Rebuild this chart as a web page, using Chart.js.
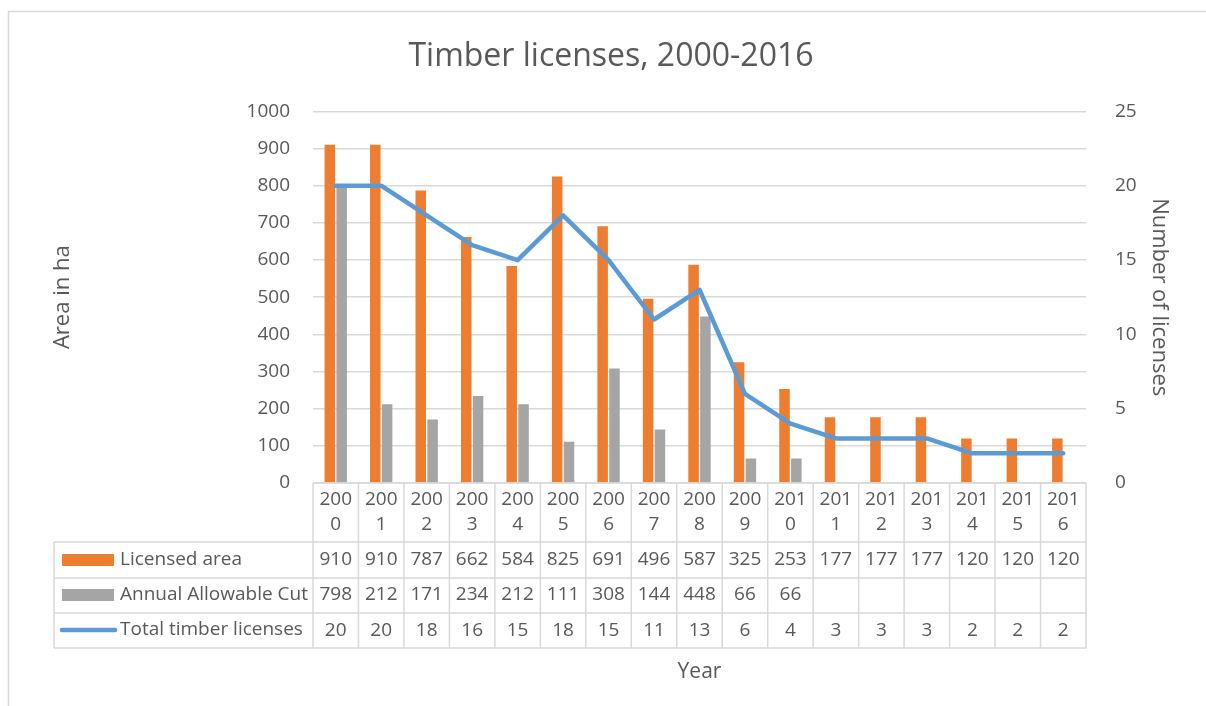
<!DOCTYPE html>
<html>
<head>
<meta charset="utf-8">
<script src="https://cdn.jsdelivr.net/npm/chart.js@4.4.1/dist/chart.umd.min.js"></script>
<style>
  body { margin: 0; background: #fff; }
  #wrap { width: 1206px; height: 706px; }
</style>
</head>
<body>
<div id="wrap"><canvas id="timber" width="1206" height="706"></canvas></div>
<script>
const years = ["2000", "2001", "2002", "2003", "2004", "2005", "2006", "2007", "2008",
  "2009", "2010", "2011", "2012", "2013", "2014", "2015", "2016"];
const licensedArea = [910, 910, 787, 662, 584, 825, 691, 496, 587, 325, 253, 177, 177, 177, 120, 120, 120];
const annualCut = [798, 212, 171, 234, 212, 111, 308, 144, 448, 66, 66, null, null, null, null, null, null];
const totalLicenses = [20, 20, 18, 16, 15, 18, 15, 11, 13, 6, 4, 3, 3, 3, 2, 2, 2];

const FONT = "'Open Sans', sans-serif";
const TXT = "#595959";
const GRID = "#D9D9D9";
const ORANGE = "#ED7D31";
const GREY = "#A5A5A5";
const BLUE = "#5B9BD5";

// outer frame + data table under the plot
const tablePlugin = {
  id: "dataTable",
  beforeDraw(chart) {
    const c = chart.ctx;
    c.save();
    c.strokeStyle = GRID;
    c.lineWidth = 1.5;
    c.beginPath();
    c.moveTo(8.5, 706);
    c.lineTo(8.5, 11.5);
    c.lineTo(1206, 11.5);
    c.stroke();
    c.restore();
  },
  afterDraw(chart) {
    const c = chart.ctx;
    const x = chart.scales.x;
    const n = years.length;
    const colW = (x.right - x.left) / n;
    const top = chart.chartArea.bottom;
    const rowLines = [top + 59, top + 95, top + 130, top + 165];
    const legLeft = 54;

    c.save();
    c.strokeStyle = GRID;
    c.lineWidth = 1.5;
    c.beginPath();
    c.moveTo(x.left, top);
    c.lineTo(x.right, top);
    rowLines.forEach((y) => {
      c.moveTo(legLeft, y);
      c.lineTo(x.right, y);
    });
    for (let i = 0; i <= n; i++) {
      const xx = x.left + i * colW;
      c.moveTo(xx, top);
      c.lineTo(xx, rowLines[3]);
    }
    c.moveTo(legLeft, rowLines[0]);
    c.lineTo(legLeft, rowLines[3]);
    c.stroke();

    c.fillStyle = TXT;
    c.font = "19px " + FONT;
    c.textAlign = "center";
    c.textBaseline = "middle";
    years.forEach((yr, i) => {
      const cx = x.getPixelForValue(i);
      c.fillText(yr.slice(0, 3), cx, top + 17);
      c.fillText(yr.slice(3), cx, top + 42);
      c.fillText(String(licensedArea[i]), cx, top + 77);
      if (annualCut[i] !== null) c.fillText(String(annualCut[i]), cx, top + 112);
      c.fillText(String(totalLicenses[i]), cx, top + 148);
    });

    // legend keys
    const names = ["Licensed area", "Annual Allowable Cut", "Total timber licenses"];
    const mids = [top + 77, top + 112, top + 147];
    c.textAlign = "left";
    c.fillStyle = ORANGE;
    c.fillRect(62, mids[0] - 6, 52, 12);
    c.fillStyle = GREY;
    c.fillRect(62, mids[1] - 6, 52, 12);
    c.strokeStyle = BLUE;
    c.lineWidth = 4.5;
    c.lineCap = "round";
    c.beginPath();
    c.moveTo(62, mids[2]);
    c.lineTo(115, mids[2]);
    c.stroke();
    c.fillStyle = TXT;
    names.forEach((nm, i) => c.fillText(nm, 120, mids[i]));
    c.restore();
  }
};

new Chart(document.getElementById("timber"), {
  type: "bar",
  data: {
    labels: years,
    datasets: [
      {
        label: "Licensed area",
        data: licensedArea,
        backgroundColor: ORANGE,
        yAxisID: "y",
        order: 2,
      },
      {
        label: "Annual Allowable Cut",
        data: annualCut,
        backgroundColor: GREY,
        yAxisID: "y",
        order: 3,
      },
      {
        type: "line",
        label: "Total timber licenses",
        data: totalLicenses,
        borderColor: BLUE,
        borderWidth: 4.5,
        borderCapStyle: "round",
        borderJoinStyle: "round",
        pointRadius: 0,
        tension: 0,
        yAxisID: "y2",
        order: 1,
      },
    ],
  },
  options: {
    responsive: false,
    animation: false,
    categoryPercentage: 0.52,
    barPercentage: 0.89,
    layout: { padding: { top: 12, left: 47, right: 31, bottom: 10 } },
    plugins: {
      legend: { display: false },
      tooltip: { enabled: false },
      title: {
        display: true,
        text: "Timber licenses, 2000-2016",
        color: TXT,
        font: { family: FONT, size: 32, weight: "normal" },
        padding: { top: 26, bottom: 35 },
      },
    },
    scales: {
      x: {
        ticks: { display: false },
        grid: { display: false, drawTicks: false },
        border: { display: false },
        title: {
          display: true,
          text: "Year",
          color: TXT,
          font: { family: FONT, size: 21 },
          padding: { top: 0, bottom: 11 },
        },
        afterFit(scale) { scale.height = 213; },
      },
      y: {
        position: "left",
        min: 0,
        max: 1000,
        ticks: {
          stepSize: 100,
          color: TXT,
          padding: 23,
          font: { family: FONT, size: 19 },
          callback: (v) => String(v),
        },
        grid: { color: GRID, lineWidth: 1.5, drawTicks: false },
        border: { display: false },
        title: {
          display: true,
          text: "Area in ha",
          color: TXT,
          font: { family: FONT, size: 22 },
          padding: { top: 3, bottom: 3 },
        },
        afterFit(scale) { scale.width = 266; },
      },
      y2: {
        position: "right",
        min: 0,
        max: 25,
        ticks: { stepSize: 5, color: TXT, padding: 29, font: { family: FONT, size: 19 } },
        grid: { display: false, drawTicks: false },
        border: { display: false },
        title: {
          display: true,
          text: "Number of licenses",
          color: TXT,
          font: { family: FONT, size: 22 },
          padding: { top: 3, bottom: 3 },
        },
        afterFit(scale) { scale.width = 89; },
      },
    },
  },
  plugins: [tablePlugin],
});
</script>
</body>
</html>
